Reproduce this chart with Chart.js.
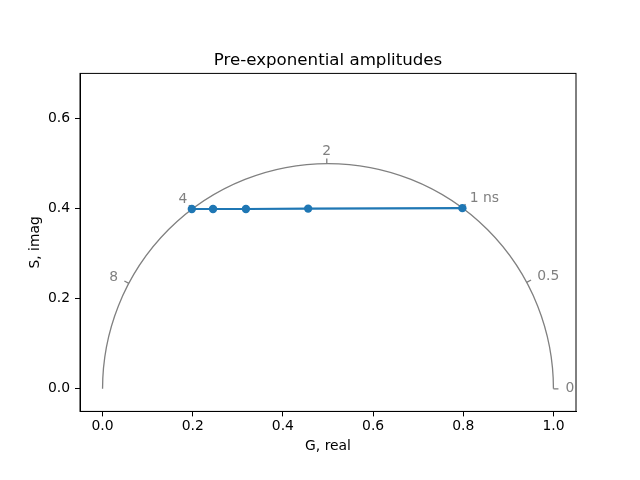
<!DOCTYPE html>
<html><head><meta charset="utf-8">
<script src="https://cdn.jsdelivr.net/npm/chart.js@4"></script>
<style>html,body{margin:0;padding:0;background:#fff}canvas{display:block}</style>
</head><body>
<canvas id="c" width="640" height="480"></canvas>
<script>
const gReal = [0.198, 0.245, 0.318, 0.456, 0.798];
const sImag = [0.399, 0.399, 0.399, 0.400, 0.401];
const xTicks = [0.0, 0.2, 0.4, 0.6, 0.8, 1.0];
const yTicks = [0.0, 0.2, 0.4, 0.6];
const lifetimesNs = [0, 0.5, 1, 2, 4, 8];
const lifetimeLabels = ['0', '0.5', '1 ns', '2', '4', '8'];
const frequencyMHz = 80;

const FONT = "'DejaVu Sans', sans-serif";
const GRAY = '#808080';

const phasorPlugin = {
  id: 'phasor',
  beforeDatasetsDraw(chart) {
    const {ctx, scales: {x, y}} = chart;
    const cx = x.getPixelForValue(0.5), cy = y.getPixelForValue(0);
    const rx = x.getPixelForValue(1) - cx;
    const ry = cy - y.getPixelForValue(0.5);
    ctx.save();
    ctx.strokeStyle = GRAY; ctx.lineWidth = 1.3;
    ctx.beginPath();
    ctx.ellipse(cx, cy, rx, ry, 0, Math.PI, 2 * Math.PI);
    ctx.stroke();
    const omega = 2 * Math.PI * frequencyMHz * 1e-3; // rad/ns
    ctx.font = '13.9px ' + FONT;
    ctx.fillStyle = GRAY;
    lifetimesNs.forEach((tau, i) => {
      const wt = omega * tau;
      const g = 1 / (1 + wt * wt), s = wt / (1 + wt * wt);
      const px = x.getPixelForValue(g), py = y.getPixelForValue(s);
      let dx = px - cx, dy = py - cy;
      const len = Math.hypot(dx, dy); dx /= len; dy /= len;
      ctx.beginPath(); ctx.moveTo(px, py); ctx.lineTo(px + 5 * dx, py + 5 * dy); ctx.stroke();
      const lx = px + 12 * dx + (dx < -0.2 && dy < -0.7 ? 2.5 : 0), ly = py + 12 * dy - 0.5;
      ctx.textAlign = dx > 0.2 ? 'left' : (dx < -0.2 ? 'right' : 'center');
      ctx.textBaseline = 'middle';
      ctx.fillText(lifetimeLabels[i], lx, ly);
    });
    ctx.restore();
  },
  afterDraw(chart) {
    const {ctx, chartArea: a} = chart;
    ctx.save();
    ctx.strokeStyle = '#000'; ctx.lineWidth = 1;
    ctx.strokeRect(a.left, a.top, a.right - a.left, a.bottom - a.top);
    ctx.restore();
  }
};

const tickFont = {family: FONT, size: 13.9};

new Chart(document.getElementById('c'), {
  type: 'scatter',
  data: {
    datasets: [{
      data: gReal.map((g, i) => ({x: g, y: sImag[i]})),
      showLine: true,
      borderColor: '#1f77b4',
      backgroundColor: '#1f77b4',
      borderWidth: 2.08,
      pointRadius: 4.2,
      pointHoverRadius: 4.2,
      pointBorderWidth: 0,
      tension: 0
    }]
  },
  options: {
    responsive: false,
    animation: false,
    events: [],
    layout: {padding: {left: 16, right: 0, top: 0, bottom: 0}},
    plugins: {
      legend: {display: false},
      tooltip: {enabled: false},
      title: {
        display: true, text: 'Pre-exponential amplitudes', color: '#000',
        font: {family: FONT, size: 16.67, weight: 'normal', lineHeight: 1.2},
        padding: {top: 51, bottom: 2.4}
      }
    },
    scales: {
      x: {
        type: 'linear', min: -0.05, max: 1.05,
        afterBuildTicks: s => { s.ticks = xTicks.map(v => ({value: v})); },
        afterFit: s => { s.height = 68.6; },
        ticks: {color: '#000', font: tickFont, padding: 2, maxRotation: 0, autoSkip: false,
                callback: v => Number(v).toFixed(1)},
        grid: {display: true, drawOnChartArea: false, drawTicks: true, tickLength: 5, color: '#000', lineWidth: 1},
        border: {display: true, color: '#000', width: 1},
        title: {display: true, text: 'G, real', color: '#000', font: tickFont, padding: {top: 0, bottom: 25.7}}
      },
      y: {
        type: 'linear', min: -0.05, max: 0.7,
        afterBuildTicks: s => { s.ticks = yTicks.map(v => ({value: v})); },
        afterFit: s => { s.width = 64; },
        ticks: {color: '#000', font: tickFont, padding: 5, autoSkip: false,
                callback: v => Number(v).toFixed(1)},
        grid: {display: true, drawOnChartArea: false, drawTicks: true, tickLength: 5, color: '#000', lineWidth: 1},
        border: {display: true, color: '#000', width: 1},
        title: {display: true, text: 'S, imag', color: '#000', font: tickFont, padding: {top: 10.6, bottom: 0}}
      },
      yRightSpace: {
        type: 'linear', position: 'right', display: true,
        afterFit: s => { s.width = 64; },
        ticks: {display: false},
        grid: {display: false, drawTicks: false},
        border: {display: false},
        title: {display: false}
      }
    }
  },
  plugins: [phasorPlugin]
});
</script>
</body></html>
